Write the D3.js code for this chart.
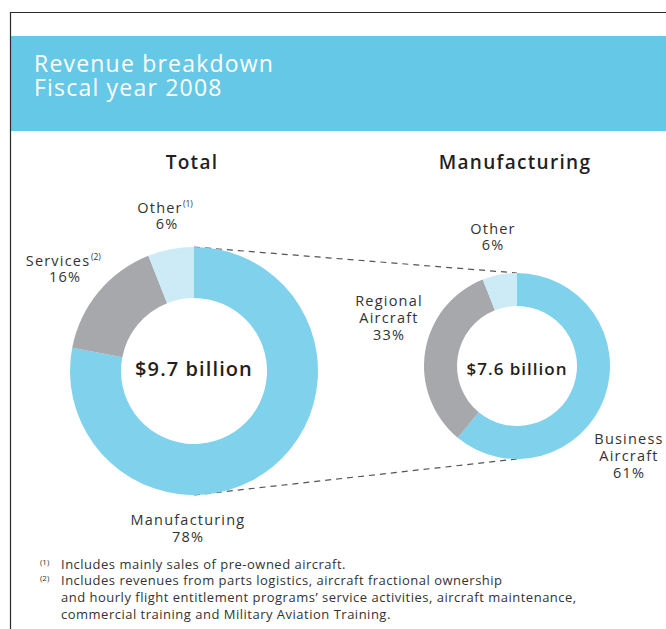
<!DOCTYPE html>
<html>
<head>
<meta charset="utf-8">
<script src="https://cdn.jsdelivr.net/npm/d3@7"></script>
<style>
  html, body { margin: 0; padding: 0; background: #fff; }
  svg { display: block; font-family: "Open Sans", "Noto Sans", sans-serif; }
</style>
</head>
<body>
<div id="chart"></div>
<script>
// Revenue breakdown, fiscal year 2008
const totalCategories = ["Manufacturing", "Services", "Other"];
const totalShares = [78, 16, 6];
const totalAmount = "$9.7 billion";

const mfgCategories = ["Business Aircraft", "Regional Aircraft", "Other"];
const mfgShares = [61, 33, 6];
const mfgAmount = "$7.6 billion";

const sliceColors = ["#80d1ec", "#a7a8ab", "#cdebf6"];

const footnotes = [
  { mark: "(1)", lines: ["Includes mainly sales of pre-owned aircraft."] },
  { mark: "(2)", lines: [
    "Includes revenues from parts logistics, aircraft fractional ownership",
    "and hourly flight entitlement programs\u2019 service activities, aircraft maintenance,",
    "commercial training and Military Aviation Training."] }
];

const W = 666, H = 629;
const ink = "#333";
const svg = d3.select("#chart").append("svg").attr("width", W).attr("height", H);

// frame and header band
svg.append("rect").attr("x", 11).attr("y", 36).attr("width", W - 11).attr("height", 95).attr("fill", "#66c8e7");
svg.append("line").attr("x1", 10).attr("x2", W).attr("y1", 12.5).attr("y2", 12.5).attr("stroke", "#2b2b2b").attr("stroke-width", 1.2);
svg.append("line").attr("x1", 10.5).attr("x2", 10.5).attr("y1", 12).attr("y2", H).attr("stroke", "#2b2b2b").attr("stroke-width", 1.2);

["Revenue breakdown", "Fiscal year 2008"].forEach((s, i) => {
  svg.append("text").attr("x", 34).attr("y", 72 + i * 24)
    .attr("fill", "#fff").attr("font-size", 23).attr("font-weight", 500)
    .attr("letter-spacing", 1.2)
    .text(s);
});

const pie = d3.pie().sort(null).value(d => d);

function donut(cx, cy, rOuter, rInner, shares, amount, amountSize, dy, ls) {
  const g = svg.append("g").attr("transform", `translate(${cx},${cy})`);
  const arc = d3.arc().innerRadius(rInner).outerRadius(rOuter);
  g.selectAll("path").data(pie(shares)).join("path")
    .attr("d", arc).attr("fill", (d, i) => sliceColors[i]);
  g.append("text").attr("text-anchor", "middle").attr("y", dy)
    .attr("font-size", amountSize).attr("font-weight", 600).attr("fill", "#231f20")
    .attr("letter-spacing", ls)
    .text(amount);
  return g;
}

const L = { cx: 194, cy: 371, r: 124, ri: 73 };
const R = { cx: 517, cy: 366, r: 93, ri: 60 };

// connector lines between the manufacturing slice and the breakdown donut
const dash = svg.append("g").attr("stroke", "#555").attr("stroke-width", 1.2).attr("stroke-dasharray", "6,5");
dash.append("line").attr("x1", L.cx).attr("y1", L.cy - L.r).attr("x2", R.cx).attr("y2", R.cy - R.r);
dash.append("line").attr("x1", L.cx).attr("y1", L.cy + L.r).attr("x2", R.cx).attr("y2", R.cy + R.r);

donut(L.cx, L.cy, L.r, L.ri, totalShares, totalAmount, 20, 5, 1.1);
donut(R.cx, R.cy, R.r, R.ri, mfgShares, mfgAmount, 17, 9, 1.0);

// section titles
svg.append("text").attr("x", 192).attr("y", 169).attr("text-anchor", "middle")
  .attr("font-size", 19).attr("font-weight", 600).attr("letter-spacing", 1.3)
  .attr("fill", "#231f20").text("Total");
svg.append("text").attr("x", 515).attr("y", 169).attr("text-anchor", "middle")
  .attr("font-size", 19).attr("font-weight", 600).attr("letter-spacing", 1.3)
  .attr("fill", "#231f20").text("Manufacturing");

// slice labels: one text per line, centred on x
function label(x, y, lines, step) {
  lines.forEach((s, i) => {
    svg.append("text").attr("x", x).attr("y", y + i * (step || 17))
      .attr("text-anchor", "middle").attr("font-size", 14.5).attr("letter-spacing", 1.2)
      .attr("fill", ink).text(s);
  });
}
// superscript footnote reference placed after a label word
function supMark(x, y, s) {
  svg.append("text").attr("x", x).attr("y", y).attr("font-size", 8.5)
    .attr("fill", ink).text(s);
}
const pct = v => v + "%";

label(160, 213, [totalCategories[2]]);
supMark(183, 207, "(1)");
label(167, 229, [pct(totalShares[2])]);

label(58, 266, [totalCategories[1]]);
supMark(91, 260, "(2)");
label(65, 282, [pct(totalShares[1])]);

label(188, 525, [totalCategories[0], pct(totalShares[0])]);
label(493, 234, [mfgCategories[2], pct(mfgShares[2])], 16);
label(389, 306, ["Regional", "Aircraft", pct(mfgShares[1])]);
label(629, 444, ["Business", "Aircraft", pct(mfgShares[0])]);

// footnotes
let fy = 569;
footnotes.forEach(f => {
  svg.append("text").attr("x", 40).attr("y", fy - 4).attr("font-size", 8).attr("fill", ink).text(f.mark);
  f.lines.forEach(s => {
    svg.append("text").attr("x", 61).attr("y", fy).attr("font-size", 13)
      .attr("letter-spacing", 0.5).attr("fill", ink).text(s);
    fy += 17;
  });
  if (f.lines.length === 1) fy -= 1;
});
</script>
</body>
</html>
